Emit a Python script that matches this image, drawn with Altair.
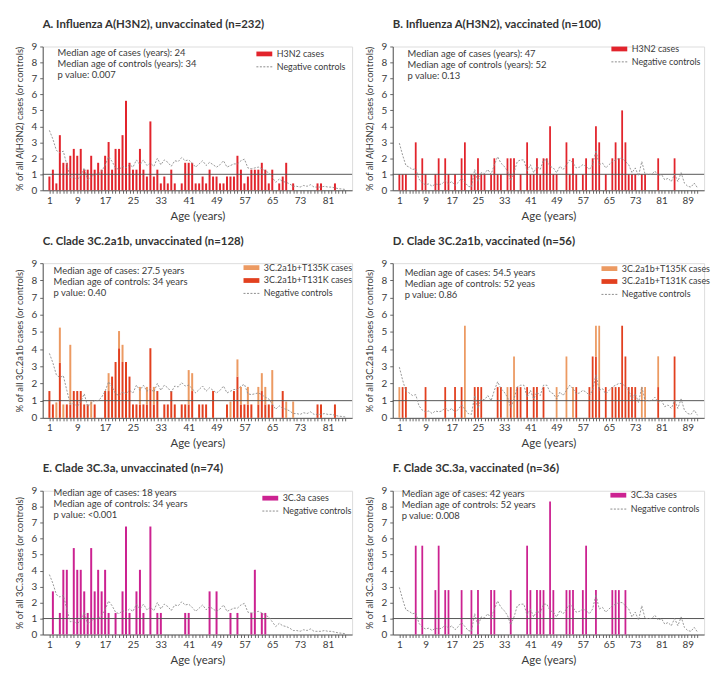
import altair as alt
import pandas as pd

FONT = "Lato"
TXT = "#3a3a3a"

# ---------------- data ----------------
# Negative controls, unvaccinated, ages 1..86 (panels A, C, E)
ctrl_unvacc = [3.75, 3.2, 2.5, 2.35, 2.45, 1.6, 0.8, 0.85, 0.65, 0.95,
               1.4, 0.65, 0.85, 1.0, 1.0, 1.2, 1.55, 2.1, 1.8, 1.4,
               1.3, 1.5, 1.4, 1.6, 1.45, 1.9, 1.6, 1.9, 1.55, 1.7,
               1.5, 2.0, 1.6, 1.9, 1.75, 1.5, 1.85, 1.8, 2.05, 1.85,
               1.9, 1.7, 1.45, 1.65, 1.85, 1.55, 1.75, 1.6, 1.45, 1.6,
               1.85, 1.45, 1.55, 1.65, 1.65, 1.85, 1.95, 1.4, 1.35, 1.4,
               1.45, 1.35, 1.2, 1.1, 0.8, 0.5, 0.7, 0.55, 0.5, 0.4,
               0.25, 0.25, 0.2, 0.3, 0.25, 0.35, 0.2, 0.2, 0.2, 0.25,
               0.2, 0.2, 0.15, 0.1, 0.08, 0.05]
# Negative controls, vaccinated, ages 1..92 (panels B, D, F)
ctrl_vacc = [2.95, 2.2, 1.55, 1.45, 1.3, 1.35, 0.7, 0.45, 0.35, 0.4,
             0.25, 0.4, 0.35, 0.4, 0.6, 0.4, 0.55, 0.3, 0.5, 0.75,
             0.5, 0.25, 0.2, 1.3, 0.55, 1.1, 1.05, 1.3, 1.0, 1.6,
             2.1, 1.7, 1.5, 1.2, 0.6, 1.1, 1.8, 1.9, 1.9, 1.2,
             1.6, 1.1, 1.5, 1.3, 1.9, 1.9, 1.5, 1.4, 1.1, 1.5,
             1.3, 1.6, 1.9, 1.7, 1.4, 1.45, 1.6, 1.5, 1.3, 1.6,
             2.5, 1.6, 1.7, 1.4, 1.6, 1.8, 1.9, 2.0, 2.0, 1.8,
             1.6, 1.1, 1.4, 0.9, 1.8, 1.0, 1.0, 1.0, 1.2, 0.9,
             1.0, 0.65, 0.75, 0.55, 1.0, 0.55, 1.1, 0.45, 0.25, 0.2,
             0.45, 0.15]

# A. H3N2 unvaccinated
a_age = list(range(1, 38)) + list(range(39, 66)) + [67, 68, 69, 71, 78, 79, 83]
a_pct = [0.86, 1.29, 0.43, 3.45, 1.72, 1.72, 2.16, 2.59, 2.16, 2.59,
         1.29, 1.29, 2.16, 1.29, 1.72, 1.29, 2.16, 3.02, 1.29, 2.59,
         2.59, 3.45, 5.60, 1.72, 1.29, 1.29, 2.59, 1.29, 0.86, 4.31,
         0.86, 1.29, 0.43, 0.86, 0.43, 1.29, 0.43,
         0.43, 1.72, 1.72, 1.72, 0.43, 0.43, 0.86, 0.43, 1.29, 0.86,
         0.86, 0.43, 0.43, 0.86, 0.86, 0.86, 2.16, 1.29, 0.43, 0.86,
         1.29, 1.29, 1.29, 1.72, 1.29, 0.43, 1.29,
         0.43, 0.86, 1.72, 0.43, 0.43, 0.43, 0.43]

# B. H3N2 vaccinated
b_age = [1, 2, 3, 6, 8, 9, 12, 13, 15, 16, 18, 20, 21, 23, 24, 25, 26, 27, 29, 30,
         31, 32, 34, 35, 36, 38, 40, 41, 42, 43, 44, 45, 46, 47, 48, 49, 52, 53, 54, 55,
         57, 58, 60, 61, 62, 64, 66, 67, 68, 69, 70, 71, 72, 73, 75, 76, 80, 85]
b_pct = [1, 1, 1, 3, 2, 1, 1, 2, 2, 1, 1, 2, 3, 1, 1, 2, 1, 1, 1, 2,
         1, 1, 2, 2, 2, 1, 3, 1, 1, 2, 1, 2, 2, 4, 1, 1, 3, 1, 2, 1,
         1, 2, 2, 4, 3, 1, 2, 3, 2, 5, 3, 1, 1, 1, 1, 1, 2, 2]

# C. Clade 3C.2a1b unvaccinated (T131K part, T135K part stacked on top)
c_age = [1, 2, 3, 4, 5, 6, 7, 8, 9, 10, 11, 12, 13, 14, 17, 18, 19, 20, 21, 22,
         23, 24, 25, 26, 27, 28, 29, 30, 31, 32, 34, 35, 36, 37, 39, 40, 41, 42, 44, 45,
         46, 48, 52, 53, 54, 55, 56, 57, 58, 59, 61, 62, 63, 64, 65, 68, 69, 71, 78, 79, 83]
c_t131k = [1.56, 0.78, 0, 3.2, 0, 0.78, 0.78, 1.56, 1.56, 1.56, 0.78, 0.78, 0, 0.78, 1.56, 1.56, 2.4, 3.25, 4.05, 3.25,
           3.25, 2.4, 0.78, 0.78, 0.78, 0.78, 0.78, 4.05, 0.78, 1.56, 0.78, 0.78, 1.56, 0.78, 0.78, 0.78, 0.78, 1.56, 0.78, 0.78,
           0.78, 1.56, 0.78, 0, 1.56, 2.4, 0.78, 0.78, 0.78, 0.78, 0.78, 1.56, 0.78, 0.78, 0.78, 1.56, 0, 0, 0.78, 0.78, 0.78]
c_t135k = [0, 0, 0.9, 2.05, 0.78, 0, 3.47, 0, 0, 0, 0, 0, 0.95, 0, 0, 1.04, 0, 0, 1.0, 1.0,
           0, 0, 0, 0, 1.02, 0, 1.02, 0, 1.02, 0, 0, 0, 0, 0, 0, 0, 2.0, 1.04, 0, 0,
           0, 0, 0, 0.95, 0, 1.0, 1.02, 0, 1.02, 0, 1.02, 1.04, 1.02, 0, 2.0, 0, 0.95, 0.95, 0, 0, 0]

# D. Clade 3C.2a1b vaccinated
d_age = [1, 2, 3, 9, 15, 18, 20, 21, 24, 25, 26, 31, 32, 34, 35, 36, 37, 38, 40, 42,
         43, 45, 49, 52, 54, 55, 59, 60, 61, 62, 64, 66, 67, 68, 69, 70, 71, 72, 73, 75,
         76, 80, 85]
d_t131k = [0, 1.79, 1.79, 1.79, 1.79, 1.79, 1.79, 0, 1.79, 1.79, 1.79, 1.79, 1.79, 0, 1.79, 0, 1.79, 1.79, 1.79, 1.79,
           1.79, 1.79, 0, 0, 0, 1.79, 1.79, 3.57, 3.57, 1.79, 1.79, 1.79, 1.79, 1.79, 5.36, 3.57, 1.79, 1.79, 1.79, 0,
           0, 1.79, 3.57]
d_t135k = [1.79, 0, 0, 0, 0, 0, 0, 5.36, 0, 0, 0, 0, 0, 1.79, 0, 3.57, 0, 0, 0, 0,
           0, 0, 1.79, 3.57, 1.79, 0, 0, 0, 1.79, 3.57, 0, 0, 0, 0, 0, 0, 0, 0, 0, 1.79,
           1.79, 1.79, 0]

# E. Clade 3C.3a unvaccinated
e_age = [2, 4, 5, 6, 8, 9, 10, 11, 12, 13, 14, 15, 16, 17, 18, 20, 22, 23, 24, 26,
         27, 28, 30, 32, 33, 40, 41, 47, 49, 53, 55, 59, 60, 62, 63]
e_pct = [2.70, 1.35, 4.05, 4.05, 5.41, 4.05, 4.05, 2.70, 1.35, 5.41, 2.70, 4.05, 2.70, 4.05, 1.35, 1.35, 2.70, 6.76, 1.35, 2.70,
         4.05, 1.35, 6.76, 1.35, 1.35, 1.35, 1.35, 2.70, 2.70, 1.35, 1.35, 1.35, 4.05, 1.35, 1.35]

# F. Clade 3C.3a vaccinated
f_age = [6, 8, 12, 13, 15, 16, 20, 23, 25, 29, 30, 35, 40, 41, 43, 44, 45, 47, 48, 52,
         53, 54, 57, 58, 61, 66, 67, 68, 70]
f_pct = [5.56, 5.56, 2.78, 5.56, 2.78, 2.78, 2.78, 2.78, 2.78, 2.78, 2.78, 2.78, 5.56, 2.78, 2.78, 2.78, 2.78, 8.33, 2.78, 2.78,
         2.78, 2.78, 2.78, 5.56, 2.78, 2.78, 2.78, 2.78, 2.78]

RED = "#e2242c"
MAGENTA = "#cc2291"
ORANGE = "#ec9a62"
RED2 = "#e2401f"
CTRL = "#8c8c8c"

RECT = "M-2,-0.6H2V0.6H-2Z"
DASH = "M-2,0H2"


def single_df(ages, vals, cat):
    return pd.DataFrame({"age": ages, "pct": vals, "cat": cat, "ord": 0})


def stacked_df(ages, red, orange, red_lab, orange_lab):
    rows = []
    for a, r, o in zip(ages, red, orange):
        if r > 0:
            rows.append({"age": a, "pct": r, "cat": red_lab, "ord": 0})
        if o > 0:
            rows.append({"age": a, "pct": o, "cat": orange_lab, "ord": 1})
    return pd.DataFrame(rows)


def panel(title, ytitle, notes, note_xy, bars_df, dom, rng, ctrl, xmax, w, h, leg_x, leg_rows, bar_w):
    xs = alt.Scale(domain=[0.5, xmax + 0.5], nice=False, zero=False)
    ys = alt.Scale(domain=[0, 9], nice=False)
    xaxis = alt.Axis(values=list(range(1, xmax + 1)),
                     labelExpr="(datum.value - 1) % 8 == 0 ? datum.label : ''",
                     title="Age (years)", grid=False, tickSize=3, tickColor="#666",
                     domainColor="#555", labelFont=FONT, labelFontSize=10, labelColor=TXT,
                     labelPadding=2, labelOverlap=False, labelFlush=False,
                     titleFont=FONT, titleFontSize=11.5, titleFontWeight="normal",
                     titleColor=TXT, titlePadding=5)
    yaxis = alt.Axis(values=list(range(0, 10)), title=ytitle, grid=False, tickSize=3,
                     tickColor="#666", domainColor="#555", labelFont=FONT,
                     labelFontSize=10, labelColor=TXT, labelPadding=3, labelOverlap=False,
                     titleFont=FONT, titleFontSize=9.5, titleFontWeight="normal",
                     titleColor=TXT, titlePadding=7)
    bars = alt.Chart(bars_df).mark_bar(size=bar_w).encode(
        x=alt.X("age:Q", scale=xs, axis=xaxis),
        y=alt.Y("pct:Q", scale=ys, axis=yaxis, stack="zero"),
        color=alt.Color("cat:N", scale=alt.Scale(domain=dom, range=rng),
                        legend=alt.Legend(title=None, orient="none", legendX=leg_x + 4,
                                          legendY=leg_rows[0] - 5, symbolType=RECT,
                                          symbolSize=64, symbolStrokeWidth=0,
                                          labelFont=FONT, labelFontSize=9, labelColor=TXT,
                                          labelOffset=8, rowPadding=3, padding=0)),
        order=alt.Order("ord:Q"),
    )
    ctrl_df = pd.DataFrame({"age": list(range(1, len(ctrl) + 1)), "pct": ctrl,
                            "series": "Negative controls"})
    line = alt.Chart(ctrl_df).mark_line(color=CTRL, strokeWidth=0.9).encode(
        x=alt.X("age:Q", scale=xs, axis=xaxis),
        y=alt.Y("pct:Q", scale=ys, axis=yaxis),
        strokeDash=alt.StrokeDash("series:N",
                                  scale=alt.Scale(domain=["Negative controls"], range=[[2, 1.5]]),
                                  legend=alt.Legend(title=None, orient="none", legendX=leg_x + 4,
                                                    legendY=leg_rows[1] - 5,
                                                    symbolType=DASH, symbolSize=64,
                                                    symbolStrokeColor=CTRL, symbolStrokeWidth=1,
                                                    labelFont=FONT, labelFontSize=9,
                                                    labelColor=TXT, labelOffset=8, padding=0)),
    )
    ref = alt.Chart(pd.DataFrame({"v": [1]})).mark_rule(color="#555", strokeWidth=1).encode(
        y=alt.Y("v:Q", scale=ys, axis=yaxis))
    note = alt.Chart(pd.DataFrame({"t": [0]})).mark_text(
        align="left", baseline="top", font=FONT, fontSize=9.5, color=TXT, lineHeight=11.2
    ).encode(x=alt.value(note_xy[0]), y=alt.value(note_xy[1]), text=alt.value(notes))
    return alt.layer(bars, ref, line, note).properties(
        width=w, height=h,
        title=alt.TitleParams(title, anchor="start", frame="group", font=FONT, fontSize=11.5,
                              fontWeight="bold", color="#333", offset=11))


YA = "% of all A(H3N2) cases (or controls)"
YC = "% of all 3C.2a1b cases (or controls)"
YE = "% of all 3C.3a cases (or controls)"

pA = panel("A. Influenza A(H3N2), unvaccinated (n=232)", YA,
           ["Median age of cases (years): 24", "Median age of controls (years): 34", "p value: 0.007"],
           (15, 1.5), single_df(a_age, a_pct, "H3N2 cases"), ["H3N2 cases"], [RED],
           ctrl_unvacc, 86, 312, 145, 215, (8, 21), 2.0)
pB = panel("B. Influenza A(H3N2), vaccinated (n=100)", YA,
           ["Median age of cases (years): 47", "Median age of controls (years): 52", "p value: 0.13"],
           (15, 2.8), single_df(b_age, b_pct, "H3N2 cases"), ["H3N2 cases"], [RED],
           ctrl_vacc, 92, 314, 145, 220, (3, 16), 1.8)
c_lab1, c_lab2 = "3C.2a1b+T135K cases", "3C.2a1b+T131K cases"
pC = panel("C. Clade 3C.2a1b, unvaccinated (n=128)", YC,
           ["Median age of cases: 27.5 years", "Median age of controls: 34 years", "p value: 0.40"],
           (11, 3.2), stacked_df(c_age, c_t131k, c_t135k, c_lab2, c_lab1), [c_lab1, c_lab2],
           [ORANGE, RED2], ctrl_unvacc, 86, 312, 156, 202, (5, 31), 2.0)
pD = panel("D. Clade 3C.2a1b, vaccinated (n=56)", YC,
           ["Median age of cases: 54.5 years", "Median age of controls: 52 yeas", "p value: 0.86"],
           (12, 5.2), stacked_df(d_age, d_t131k, d_t135k, c_lab2, c_lab1), [c_lab1, c_lab2],
           [ORANGE, RED2], ctrl_vacc, 92, 314, 156, 210, (6, 32), 1.8)
pE = panel("E. Clade 3C.3a, unvaccinated (n=74)", YE,
           ["Median age of cases: 18 years", "Median age of controls: 34 years", "p value: <0.001"],
           (11, -2.5), single_df(e_age, e_pct, "3C.3a cases"), ["3C.3a cases"], [MAGENTA],
           ctrl_unvacc, 86, 312, 145, 221, (8, 21), 2.0)
pF = panel("F. Clade 3C.3a, vaccinated (n=36)", YE,
           ["Median age of cases: 42 years", "Median age of controls: 52 years", "p value: 0.008"],
           (9, -1.5), single_df(f_age, f_pct, "3C.3a cases"), ["3C.3a cases"], [MAGENTA],
           ctrl_vacc, 92, 314, 145, 219, (5, 19), 1.8)

chart = alt.concat(
    pA, pB, pC, pD, pE, pF, columns=2, bounds="flush",
    spacing={"row": 73.5, "column": 41},
).resolve_scale(color="independent", strokeDash="independent").configure_view(
    stroke=None).configure(background="white",
                           padding={"top": 8, "left": 5, "right": 5, "bottom": 5})

chart.save("out.html", embed_options={"renderer": "svg", "actions": False})
